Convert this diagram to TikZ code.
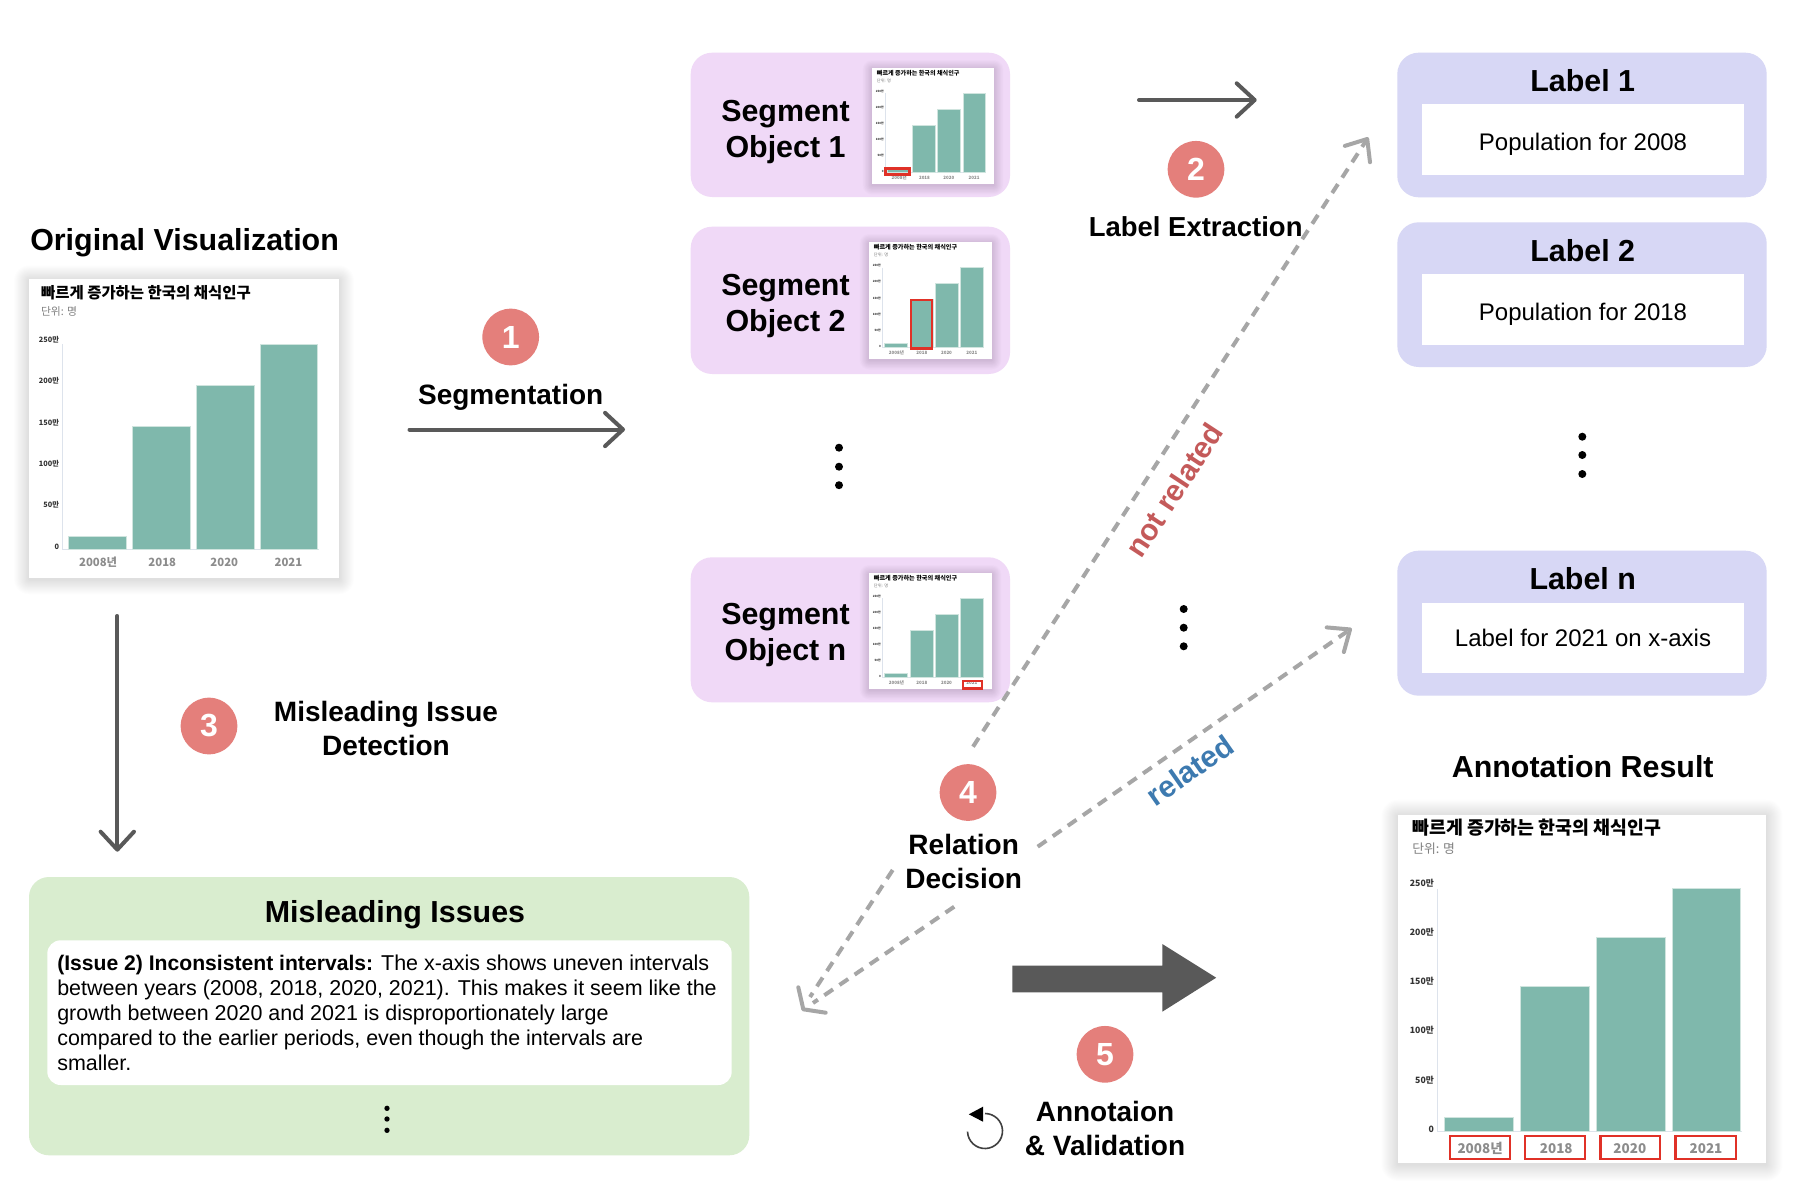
\documentclass[tikz,border=0pt]{standalone}
\usepackage{fontspec}
\setmainfont{Liberation Sans}
\newfontfamily\kor{Noto Sans CJK KR}
\usetikzlibrary{arrows.meta}
\definecolor{teal1}{HTML}{7FB8AC}
\definecolor{tealedge}{HTML}{CFE4DE}
\definecolor{axisc}{HTML}{DDE3EC}
\definecolor{purplebg}{HTML}{F0D9F7}
\definecolor{bluebg}{HTML}{D7D7F5}
\definecolor{greenbg}{HTML}{D9EDCF}
\definecolor{darkarr}{HTML}{595959}
\definecolor{dashc}{HTML}{A6A6A6}
\definecolor{stepc}{HTML}{E47F7B}
\definecolor{redbox}{HTML}{E03127}
\definecolor{notrel}{HTML}{C45A5A}
\definecolor{relc}{HTML}{3D7AB0}
\tikzset{
  x=0.75pt,y=-0.75pt,
  pxbox/.style 2 args={minimum width=#1*0.75pt,minimum height=#2*0.75pt,inner sep=0pt,outer sep=0pt,rectangle},
  stepnum/.style={circle,fill=stepc,text=white,inner sep=0pt,minimum size=42.5pt,font=\fontsize{24}{24}\selectfont\bfseries},
  headA/.style={font=\fontsize{22.8}{27}\selectfont\bfseries,align=center,inner sep=0pt},
  headB/.style={font=\fontsize{21}{25.5}\selectfont\bfseries,align=center,inner sep=0pt},
  segbox/.style={fill=purplebg,rounded corners=16pt},
  lblbox/.style={fill=bluebg,rounded corners=16pt},
  ldot/.style={circle,fill=black,inner sep=0pt,minimum size=6pt},
  sdot/.style={circle,fill=black,inner sep=0pt,minimum size=4pt},
  darrow/.style={draw=darkarr,line width=3pt,line cap=round,-{Straight Barb[length=13.5pt,width=25pt,round]}},
  dasharrow/.style={draw=dashc,line width=3pt,dash pattern=on 7.9pt off 5.85pt,-{Straight Barb[length=13.5pt,width=22.5pt,round]}},
  dashline/.style={draw=dashc,line width=3pt,dash pattern=on 7.9pt off 5.85pt},
  redmark/.style={draw=redbox,line width=#1,fill=none},
}
% name, x, y, w, h, vtop, vbot, vlabel, vtitle
\newcommand{\chartpic}[9]{%
\begin{scope}[shift={(#2,#3)}]
  \pgfmathsetmacro\chs{#4/310}
  \pgfmathsetmacro\ux{#4*0.75}
  \pgfmathsetmacro\uy{#5*0.75}
  \pgfmathsetmacro\fT{11.6*\chs}
  \pgfmathsetmacro\fU{8.1*\chs}
  \pgfmathsetmacro\fK{5.5*\chs}
  \pgfmathsetmacro\fX{8.5*\chs}
  \begin{scope}[x=\ux pt,y=-\uy pt]
    \foreach \st in {1,...,16}{
      \pgfmathsetmacro\ee{\st*0.7*(0.4+0.6*\chs)}
      \fill[black,opacity=0.007,rounded corners=\ee pt]
        ([xshift=-\ee pt,yshift=\ee pt-1pt]0,0) rectangle ([xshift=\ee pt,yshift=-\ee pt-1pt]1,1);
    }
    \fill[white] (0,0) rectangle (1,1);
    \draw[axisc,line width=0.6pt] (.107,#6) -- (.107,#7) -- (.935,#7);
    \foreach \aa/\bb/\ff in {.127/.314/.06,.333/.519/.6,.539/.726/.8,.746/.931/1}{
      \pgfmathsetmacro\tp{#7-(#7-#6)*\ff}
      \filldraw[fill=teal1,draw=tealedge,line width=0.5pt] (\aa,\tp) rectangle (\bb,#7);
    }
    \node[anchor=west,inner sep=0pt] (#1-title) at (.038,#9) {\kor\bfseries\fontsize{\fT}{\fT}\selectfont 빠르게 증가하는 한국의 채식인구};
    \pgfmathsetmacro\vu{#9+.063}
    \node[anchor=west,inner sep=0pt,text=gray] (#1-unit) at (.038,\vu) {\kor\fontsize{\fU}{\fU}\selectfont 단위: 명};
    \foreach \kk/\tt in {0/250만,1/200만,2/150만,3/100만,4/50만,5/0}{
      \pgfmathsetmacro\vt{#6-.016+\kk*(#7-#6+.008)/5}
      \node[anchor=east,inner sep=0pt,text=black!80] (#1-tick\kk) at (.098,\vt) {\kor\bfseries\fontsize{\fK}{\fK}\selectfont \tt};
    }
    \foreach \uu/\tt/\nn in {.223/2008년/a,.43/2018/b,.63/2020/c,.837/2021/d}{
      \node[inner sep=0pt,text=black!45] (#1-lab\nn) at (\uu,#8) {\kor\bfseries\fontsize{\fX}{\fX}\selectfont \tt};
    }
  \end{scope}
\end{scope}}
\begin{document}
\begin{tikzpicture}
\useasboundingbox (0,0) rectangle (1810,1188);
\fill[white] (0,0) rectangle (1810,1188);

% left column
\node[headA,anchor=west] (origT) at (30,242.3) {Original Visualization};
\chartpic{orig}{29}{279}{310}{299}{.218}{.903}{.947}{.047}

% step 1
\node[stepnum] (s1) at (510.7,337) {1};
\node[headB] (s1t) at (510.7,397) {Segmentation};
\coordinate (a1s) at (409.5,429.5); \coordinate (a1e) at (625,429.5);
\draw[darrow] (a1s) -- (a1e);

% segments
\node[segbox,pxbox={319.3}{144.3}] (seg1) at (850.35,124.85) {};
\node[segbox,pxbox={319.3}{147.3}] (seg2) at (850.35,300.35) {};
\node[segbox,pxbox={319.3}{145}] (segn) at (850.35,629.8) {};
\node[headA] (seg1t) at (785.5,131.8) {Segment\\Object 1};
\node[headA] (seg2t) at (785.5,306.5) {Segment\\Object 2};
\node[headA] (segnt) at (785.5,635.5) {Segment\\Object n};
\chartpic{t1}{872}{68}{122}{116}{.218}{.903}{.947}{.047}
\chartpic{t2}{869}{242}{123}{117}{.218}{.903}{.947}{.047}
\chartpic{t3}{869}{573}{123}{116}{.218}{.903}{.947}{.047}
\draw[redmark=2pt] (885.5,168.5) rectangle (909.5,174.5);
\draw[redmark=2pt] (911,300) rectangle (932,348.5);
\draw[redmark=2pt] (963,681) rectangle (982,688.5);
\node[ldot] (md1) at (839,447.7) {};
\node[ldot] (md2) at (839,466.7) {};
\node[ldot] (md3) at (839,485.2) {};

% step 2
\coordinate (a2s) at (1139,100); \coordinate (a2e) at (1256.7,100);
\draw[darrow] (a2s) -- (a2e);
\node[stepnum] (s2) at (1196,169.3) {2};

% dashed connectors
\coordinate (nrS) at (973,746.7); \coordinate (nrE) at (1368.3,137.3);
\draw[dasharrow] (nrS) -- (nrE);
\coordinate (rS) at (1037.7,846.7); \coordinate (rE) at (1351.7,628.3);
\draw[dasharrow] (rS) -- (rE);
\coordinate (l1S) at (892.7,870); \coordinate (l1E) at (810,997);
\coordinate (l2S) at (954.2,906.7); \coordinate (l2E) at (813,1003);
\coordinate (hTip) at (803.3,1009.3); \coordinate (hA) at (798.3,987.3); \coordinate (hB) at (825.7,1012.7);
\draw[dashline] (l1S) -- (l1E);
\draw[dashline] (l2S) -- (l2E);
\draw[draw=dashc,line width=3pt,line cap=round,line join=round] (hA) -- (hTip) -- (hB);

\node[headB,font=\fontsize{20.6}{20.6}\selectfont\bfseries] (s2t) at (1195.7,226.7) {Label Extraction};
\node[text=notrel,font=\fontsize{22.4}{22.4}\selectfont\bfseries,rotate=56.7,inner sep=0pt] (nrt) at (1174,490) {not related};
\node[text=relc,font=\fontsize{22.5}{22.5}\selectfont\bfseries,rotate=35,inner sep=0pt] (rt) at (1190,770) {related};
\node[ldot] (cd1) at (1183.7,609) {};
\node[ldot] (cd2) at (1183.7,627.7) {};
\node[ldot] (cd3) at (1183.7,646.3) {};

% labels
\node[lblbox,pxbox={369.4}{144.6}] (lb1) at (1582,125) {};
\node[lblbox,pxbox={369.4}{144.7}] (lb2) at (1582,294.65) {};
\node[lblbox,pxbox={369.4}{145}] (lbn) at (1582,623.2) {};
\node[headA] (lb1t) at (1582.7,80.7) {Label 1};
\node[headA] (lb2t) at (1582.7,250.7) {Label 2};
\node[headA] (lbnt) at (1582.7,579) {Label n};
\node[fill=white,pxbox={322}{70.7},font=\fontsize{18}{18}\selectfont,text height=15.6pt,text depth=0pt] (in1) at (1583,139.65) {Population for 2008};
\node[fill=white,pxbox={322}{70.7},font=\fontsize{18}{18}\selectfont,text height=15.6pt,text depth=0pt] (in2) at (1583,309.65) {Population for 2018};
\node[fill=white,pxbox={322}{70},font=\fontsize{18}{18}\selectfont] (inn) at (1583,638) {Label for 2021 on x-axis};
\node[ldot] (rd1) at (1582.3,436.7) {};
\node[ldot] (rd2) at (1582.3,455) {};
\node[ldot] (rd3) at (1582.3,474) {};

% step 3
\coordinate (a3s) at (117.3,616); \coordinate (a3e) at (117.3,851.7);
\draw[darrow] (a3s) -- (a3e);
\node[stepnum] (s3) at (209,726) {3};
\node[headB] (s3t) at (386,728.7) {Misleading Issue\\Detection};

% issues
\node[fill=greenbg,rounded corners=15pt,pxbox={720.3}{278.3}] (iss) at (389.15,1016.15) {};
\node[fill=white,rounded corners=10pt,pxbox={684.4}{144.7}] (issin) at (389.5,1012.65) {};
\node[headA] (isst) at (395,915) {Misleading Issues};
\node[anchor=west,align=left,inner sep=0pt,font=\fontsize{16.1}{18.75}\selectfont] (isstxt) at (57,1012.7) {{\fontsize{15.85}{18.75}\selectfont\bfseries (Issue 2) Inconsistent intervals:} The x-axis shows uneven intervals\\between years (2008, 2018, 2020, 2021). This makes it seem like the\\growth between 2020 and 2021 is disproportionately large\\compared to the earlier periods, even though the intervals are\\smaller.};
\node[sdot] (id1) at (387,1108.3) {};
\node[sdot] (id2) at (387,1119) {};
\node[sdot] (id3) at (387,1130.3) {};

% step 4
\node[stepnum] (s4) at (968,792.5) {4};
\node[headB] (s4t) at (963.7,861) {Relation\\Decision};

% step 5
\fill[darkarr] (1012.3,965.7) -- (1162.3,965.7) -- (1162.3,944) -- (1216.2,977.7) -- (1162.3,1011.7) -- (1162.3,992.3) -- (1012.3,992.3) -- cycle;
\node[stepnum] (s5) at (1105,1054.3) {5};
\node[headB] (s5t) at (1105,1128.5) {Annotaion\\\& Validation};
\draw[black!75,line width=1.2pt] (985,1131) ++(178:17.5) arc[start angle=178,end angle=-90,radius=17.5];
\fill[black] (968.8,1114.3) -- (983,1106.7) -- (983,1121.7) -- cycle;

% result
\node[headA] (resT) at (1582.7,766.7) {Annotation Result};
\chartpic{res}{1398}{815}{368}{348}{.212}{.91}{.958}{.035}
\draw[redmark=2.2pt] (1450,1136) rectangle (1510,1159);
\draw[redmark=2.2pt] (1525,1136) rectangle (1585,1159);
\draw[redmark=2.2pt] (1600.7,1136) rectangle (1660,1159);
\draw[redmark=2.2pt] (1675.7,1136) rectangle (1736,1159);
\end{tikzpicture}
\end{document}
